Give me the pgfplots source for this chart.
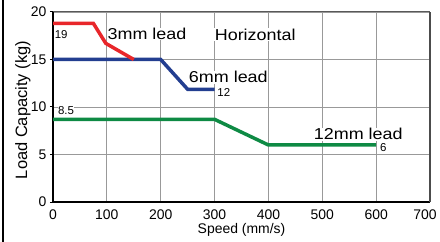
\documentclass[border=0pt]{standalone}
\usepackage{fontspec}
\setmainfont{Liberation Sans}
\usepackage{pgfplots}
\pgfplotsset{compat=1.18}
\definecolor{cred}{HTML}{E8262A}
\definecolor{cblue}{HTML}{233E90}
\definecolor{cgreen}{HTML}{0E8A44}
\begin{document}
\begin{tikzpicture}
\useasboundingbox (-53bp,-40bp) rectangle (387bp,202bp);
\draw[black,line width=1.2bp] (-50bp,-40bp) -- (-50bp,202bp);
\begin{axis}[
 at={(0,0)}, anchor=south west,
 scale only axis, width=377bp, height=190bp,
 xmin=0,xmax=700,ymin=0,ymax=20,
 xtick={0,100,...,600}, ytick={0,5,10,15,20},
 extra x ticks={700},
 extra x tick style={xticklabel style={xshift=-5bp}},
 grid=major, major grid style={gray!80, line width=0.9bp},
 axis x line*=bottom, axis y line*=left,
 axis line style={black,line width=1.8bp,-},
 tick align=outside, major tick length=3bp,
 xtick style={draw=none}, ytick style={black,line width=1bp},
 tick label style={font=\fontsize{14}{14}\selectfont},
 xticklabel style={yshift=-1bp},
 /pgf/number format/assume math mode=true,
 xlabel={Speed (mm/s)}, ylabel={Load Capacity (kg)},
 xlabel style={font=\fontsize{14}{15}\selectfont, at={(axis description cs:0.5,-0.145)}, anchor=center},
 ylabel style={font=\fontsize{16.5}{17}\selectfont, at={(axis description cs:-0.0796,0.484)}, anchor=center},
 clip=false,
]
\addplot[cblue, line width=3.5bp] coordinates {(0,15)(200,15)(250,11.86)(300,11.86)};
\addplot[cred, line width=3.5bp] coordinates {(0,18.8)(75,18.8)(98,16.7)(150,15)};
\addplot[cgreen, line width=3.5bp] coordinates {(0,8.7)(300,8.7)(400,6)(600,6)};
\draw[gray!60!black, line width=1.4bp] (axis cs:700,0) -- (axis cs:700,20);
\draw[gray!70!black, line width=1bp] (axis cs:0,20) -- (axis cs:700,20);
\node[anchor=west, inner sep=0.5bp, font=\fontsize{11.5}{12}\selectfont] at (axis cs:2,17.6) {19};
\node[anchor=west, fill=white, inner sep=0.5bp, font=\fontsize{11.5}{12}\selectfont] at (axis cs:8,9.6) {8.5};
\node[anchor=west, inner sep=0.5bp, font=\fontsize{11.5}{12}\selectfont] at (axis cs:304,11.5) {12};
\node[anchor=west, inner sep=0.5bp, font=\fontsize{11.5}{12}\selectfont] at (axis cs:606,5.75) {6};
\node[anchor=base west, fill=white, inner sep=0.6bp, font=\fontsize{18}{19}\selectfont] at (axis cs:100,17.1) {\scalebox{1}[0.88]{3mm lead}};
\node[anchor=base west, fill=white, inner sep=0.6bp, font=\fontsize{18}{19}\selectfont] at (axis cs:299,17.05) {\scalebox{1}[0.88]{Horizontal}};
\node[anchor=base west, fill=white, inner sep=0.6bp, font=\fontsize{18}{19}\selectfont] at (axis cs:251,12.55) {\scalebox{1}[0.88]{6mm lead}};
\node[anchor=base west, fill=white, inner sep=0.6bp, font=\fontsize{18}{19}\selectfont] at (axis cs:483,6.55) {\scalebox{1}[0.88]{12mm lead}};
\end{axis}
\end{tikzpicture}
\end{document}
